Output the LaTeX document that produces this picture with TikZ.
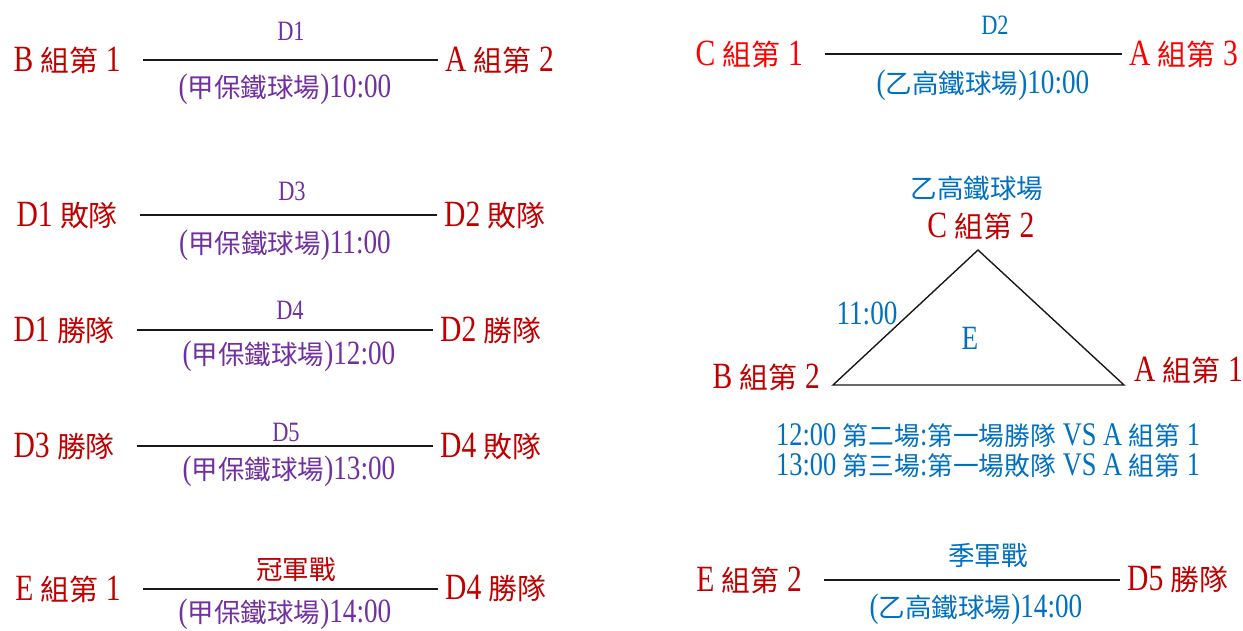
\documentclass[tikz,border=0pt]{standalone}
\usepackage{fontspec}
\setmainfont{Liberation Serif}[FakeStretch=0.8]
\newfontfamily\cjk{Noto Sans CJK TC}[Scale=0.78]
\newcommand\zh[1]{{\cjk #1}}
\usepackage{tikz}
\usetikzlibrary{
  positioning
}
\definecolor{teamred}{RGB}{192,0,0}
\definecolor{brightred}{RGB}{255,0,0}
\definecolor{fieldpurple}{RGB}{112,48,160}
\definecolor{fieldblue}{RGB}{0,112,192}
\tikzset{
  team/.style={
    text=#1,
    inner sep=0pt,
    font=\fontsize{37}{40}\selectfont
  },
  team/.default=teamred,
  matchid/.style={
    text=#1,
    inner sep=0pt,
    font=\fontsize{28}{30}\selectfont
  },
  matchid/.default=fieldpurple,
  field/.style={
    text=#1,
    inner sep=0pt,
    font=\fontsize{34}{36}\selectfont
  },
  field/.default=fieldpurple,
  note/.style={
    text=fieldblue,
    inner sep=0pt,
    font=\fontsize{33}{35}\selectfont
  },
  matchline/.style={
    line width=1.8pt,
    draw=black!90,
    shorten <=22pt,
    shorten >=7pt
  },
  triline/.style={
    line width=1.4pt,
    draw=black!90,
    line join=miter
  }
}

\begin{document}
\begin{tikzpicture}[x=1pt, y=-1pt]
  \useasboundingbox (0,0) rectangle (1243,630);

  % D1
  \node[team, anchor=east] (b1) at (121,60) {B \zh{組第} 1};
  \node[team, anchor=west] (a2) at (445,60) {A \zh{組第} 2};
  \draw[matchline] (b1.east) -- (a2.west);
  \node[matchid] (d1) at (291,31) {D1};
  \node[field] (d1field) at (285,89) {(\zh{甲保鐵球場})10:00};

  % D2
  \node[team=brightred, anchor=east] (c1) at (803,54) {C \zh{組第} 1};
  \node[team=brightred, anchor=west] (a3) at (1129,54) {A \zh{組第} 3};
  \draw[matchline] (c1.east) -- (a3.west);
  \node[matchid=fieldblue] (d2) at (995,25) {D2};
  \node[field=fieldblue] (d2field) at (983,85) {(\zh{乙高鐵球場})10:00};

  % D3
  \node[team, anchor=east] (d1lose) at (118,215) {D1 \zh{敗隊}};
  \node[team, anchor=west] (d2lose) at (444,215) {D2 \zh{敗隊}};
  \draw[matchline] (d1lose.east) -- (d2lose.west);
  \node[matchid] (d3) at (292,191) {D3};
  \node[field] (d3field) at (285,245) {(\zh{甲保鐵球場})11:00};

  % D4
  \node[team, anchor=east] (d1win) at (115,330) {D1 \zh{勝隊}};
  \node[team, anchor=west] (d2win) at (440,330) {D2 \zh{勝隊}};
  \draw[matchline] (d1win.east) -- (d2win.west);
  \node[matchid] (d4) at (290,310) {D4};
  \node[field] (d4field) at (289,356) {(\zh{甲保鐵球場})12:00};

  % D5
  \node[team, anchor=east] (d3win) at (115,446) {D3 \zh{勝隊}};
  \node[team, anchor=west] (d4lose) at (440,446) {D4 \zh{敗隊}};
  \draw[matchline] (d3win.east) -- (d4lose.west);
  \node[matchid] (d5) at (286,432) {D5};
  \node[field] (d5field) at (289,471) {(\zh{甲保鐵球場})13:00};

  % final
  \node[team, anchor=east] (e1) at (121,589) {E \zh{組第} 1};
  \node[team, anchor=west] (d4win) at (445,589) {D4 \zh{勝隊}};
  \draw[matchline] (e1.east) -- (d4win.west);
  \node[field=teamred] (final) at (296,570) {\zh{冠軍戰}};
  \node[field] (finalfield) at (285,614) {(\zh{甲保鐵球場})14:00};

  % third place
  \node[team, anchor=east] (e2) at (802,580) {E \zh{組第} 2};
  \node[team, anchor=west] (d5win) at (1127,580) {D5 \zh{勝隊}};
  \draw[matchline] (e2.east) -- (d5win.west);
  \node[field=fieldblue] (third) at (988,556) {\zh{季軍戰}};
  \node[field=fieldblue] (thirdfield) at (976,609) {(\zh{乙高鐵球場})14:00};

  % group E
  \node[field=fieldblue] (efield) at (977,188) {\zh{乙高鐵球場}};
  \node[team] (c2) at (981,226) {C \zh{組第} 2};
  \node[team, anchor=east] (b2) at (820,377) {B \zh{組第} 2};
  \node[team, anchor=west] (a1) at (1134,370) {A \zh{組第} 1};
  \coordinate (apexE) at (978,250);
  \coordinate (leftE) at (833,385);
  \coordinate (rightE) at (1124,385);
  \draw[triline] (leftE) -- (apexE) -- (rightE) -- cycle;
  \node[field=fieldblue] (etime) at (867,313) {11:00};
  \node[field=fieldblue] (ename) at (970,338) {E};
  \node[note, anchor=west] (enote1) at (776,436)
    {12:00 \zh{第二場}:\zh{第一場勝隊} VS A \zh{組第} 1};
  \node[note, anchor=west] (enote2) at (776,466)
    {13:00 \zh{第三場}:\zh{第一場敗隊} VS A \zh{組第} 1};
\end{tikzpicture}
\end{document}
